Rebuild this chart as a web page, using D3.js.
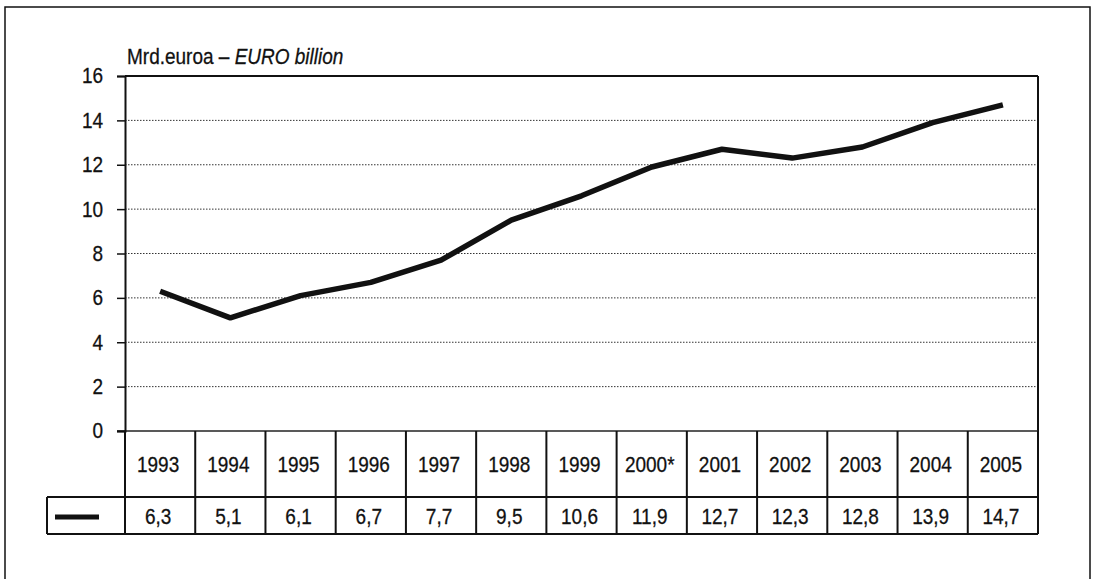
<!DOCTYPE html>
<html>
<head>
<meta charset="utf-8">
<script src="https://cdn.jsdelivr.net/npm/d3@7"></script>
<style>
  html, body { margin: 0; padding: 0; background: #fff; }
  svg text { font-family: "Liberation Sans", Arial, sans-serif; fill: #111; stroke: #111; stroke-width: 0.25px;
             transform-box: fill-box; transform-origin: center; transform: scaleY(1.12); }
</style>
</head>
<body>
<svg id="chart" width="1094" height="579"></svg>
<script>
const years = ["1993","1994","1995","1996","1997","1998","1999","2000*","2001","2002","2003","2004","2005"];
const values = [6.3, 5.1, 6.1, 6.7, 7.7, 9.5, 10.6, 11.9, 12.7, 12.3, 12.8, 13.9, 14.7];
const valueLabels = ["6,3","5,1","6,1","6,7","7,7","9,5","10,6","11,9","12,7","12,3","12,8","13,9","14,7"];
const yTicks = [0, 2, 4, 6, 8, 10, 12, 14, 16];
const titleMain = "Mrd.euroa – ";
const titleItalic = "EURO billion";

(function () {
const svg = d3.select("#chart");
const pLeft = 125, pRight = 1038, pTop = 76, pBottom = 431;
const rowYearBottom = 497, rowValBottom = 534, legendLeft = 47;

const x = d3.scaleBand().domain(years).range([pLeft, pRight]);
const y = d3.scaleLinear().domain([0, 16]).range([pBottom, pTop]);

// outer frame
svg.append("rect").attr("x", 5).attr("y", 7).attr("width", 1085).attr("height", 600)
  .attr("fill", "none").attr("stroke", "#111").attr("stroke-width", 1.5);

// gridlines
svg.append("g").selectAll("line").data(yTicks.filter(t => t > 0 && t < 16)).join("line")
  .attr("x1", pLeft).attr("x2", pRight).attr("y1", d => y(d)).attr("y2", d => y(d))
  .attr("stroke", "#333").attr("stroke-width", 1).attr("stroke-dasharray", "1.5,1.5");

// plot frame: top and right
svg.append("line").attr("x1", pLeft).attr("x2", pRight).attr("y1", y(16)).attr("y2", y(16))
  .attr("stroke", "#111").attr("stroke-width", 1.8);
svg.append("line").attr("x1", pRight).attr("x2", pRight).attr("y1", y(16)).attr("y2", rowValBottom)
  .attr("stroke", "#111").attr("stroke-width", 2);
// baseline
svg.append("line").attr("x1", pLeft - 8).attr("x2", pRight).attr("y1", y(0)).attr("y2", y(0))
  .attr("stroke", "#222").attr("stroke-width", 1.5);

// y axis
const yAxis = d3.axisLeft(y).tickValues(yTicks).tickSize(8).tickPadding(14).tickFormat(d3.format("d"));
const ga = svg.append("g").attr("transform", `translate(${pLeft},0)`).call(yAxis);
ga.select(".domain").attr("stroke", "#111").attr("stroke-width", 2);
ga.selectAll(".tick line").attr("stroke", "#111").attr("stroke-width", 1.5);
ga.selectAll(".tick text").attr("font-size", 19).attr("fill", "#111")
  .attr("font-family", "Liberation Sans, Arial, sans-serif");

// title
const title = svg.append("text").attr("x", 127).attr("y", 63).attr("font-size", 19);
title.append("tspan").text(titleMain);
title.append("tspan").attr("font-style", "italic").text(titleItalic);

// data table
const tbl = svg.append("g");
const stroke = "#111";
const bounds = years.map(d => x(d)).concat([pRight]);
tbl.selectAll("line.v").data(bounds).join("line").attr("class", "v")
  .attr("x1", d => d).attr("x2", d => d).attr("y1", pBottom).attr("y2", rowValBottom)
  .attr("stroke", stroke).attr("stroke-width", 2);
tbl.append("line").attr("x1", legendLeft).attr("x2", pRight).attr("y1", rowYearBottom).attr("y2", rowYearBottom)
  .attr("stroke", stroke).attr("stroke-width", 2);
tbl.append("line").attr("x1", legendLeft).attr("x2", pRight).attr("y1", rowValBottom).attr("y2", rowValBottom)
  .attr("stroke", stroke).attr("stroke-width", 2);
tbl.append("line").attr("x1", legendLeft).attr("x2", legendLeft).attr("y1", rowYearBottom).attr("y2", rowValBottom)
  .attr("stroke", stroke).attr("stroke-width", 2);
// legend key
tbl.append("line").attr("x1", 55).attr("x2", 99).attr("y1", 517).attr("y2", 517)
  .attr("stroke", "#111").attr("stroke-width", 5);

tbl.selectAll("text.year").data(years).join("text").attr("class", "year")
  .attr("x", d => x(d) + x.bandwidth() / 2 - 2).attr("y", 471)
  .attr("text-anchor", "middle").attr("font-size", 19).text(d => d);
tbl.selectAll("text.val").data(valueLabels).join("text").attr("class", "val")
  .attr("x", (d, i) => x(years[i]) + x.bandwidth() / 2 - 2).attr("y", 523)
  .attr("text-anchor", "middle").attr("font-size", 19).text(d => d);

// line
const line = d3.line().x((d, i) => x(years[i]) + x.bandwidth() / 2).y(d => y(d));
svg.append("path").datum(values).attr("d", line)
  .attr("fill", "none").attr("stroke", "#111").attr("stroke-width", 5.5)
  .attr("stroke-linejoin", "round");
})();
</script>
</body>
</html>
